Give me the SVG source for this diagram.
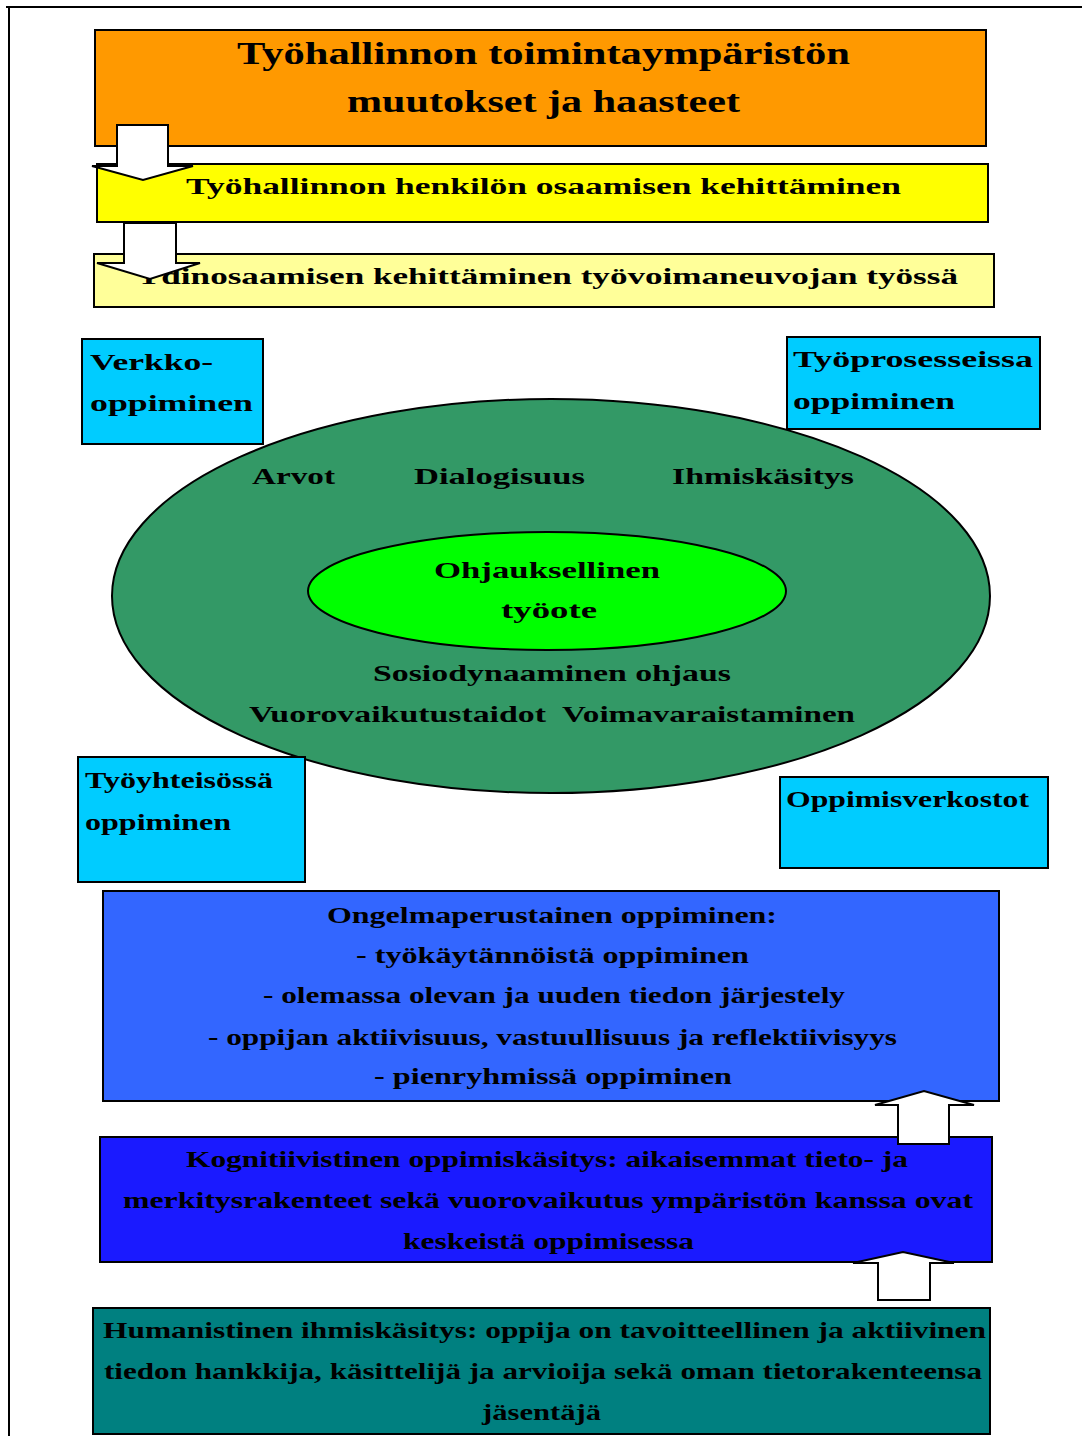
<svg xmlns="http://www.w3.org/2000/svg" width="1082" height="1436" viewBox="0 0 1082 1436">
<style>
.box{stroke:#000;stroke-width:2}
.t{font-family:"Liberation Serif","Times New Roman",serif;font-weight:bold;fill:#000;font-size:24px}
.big{font-size:32px}
.arr{fill:#fff;stroke:#000;stroke-width:2;stroke-linejoin:miter}
</style>
<rect width="1082" height="1436" fill="#fff"/>
<g id="frame">
<line x1="6" y1="7" x2="1082" y2="7" stroke="#000" stroke-width="2"/>
<line x1="9" y1="6" x2="9" y2="1436" stroke="#000" stroke-width="2"/>
</g>
<g id="node-muutokset">
<rect class="box" x="95" y="30" width="891" height="116" fill="#FF9900"/>
<text class="t big" x="237" y="64" textLength="613" lengthAdjust="spacingAndGlyphs">Työhallinnon toimintaympäristön</text>
<text class="t big" x="347" y="112" textLength="393" lengthAdjust="spacingAndGlyphs">muutokset ja haasteet</text>
</g>
<g id="node-henkilon">
<rect class="box" x="97" y="164" width="891" height="58" fill="#FFFF00"/>
<text class="t" x="186" y="194" textLength="715" lengthAdjust="spacingAndGlyphs">Työhallinnon henkilön osaamisen kehittäminen</text>
</g>
<g id="node-ydinosaaminen">
<rect class="box" x="94" y="254" width="900" height="53" fill="#FFFF99"/>
<text class="t" x="136" y="284" textLength="822" lengthAdjust="spacingAndGlyphs">Ydinosaamisen kehittäminen työvoimaneuvojan työssä</text>
</g>
<g id="node-ohjaus">
<ellipse class="box" cx="551" cy="596" rx="439" ry="197" fill="#339966"/>
<text class="t" x="252" y="484" textLength="83" lengthAdjust="spacingAndGlyphs">Arvot</text>
<text class="t" x="414" y="484" textLength="171" lengthAdjust="spacingAndGlyphs">Dialogisuus</text>
<text class="t" x="672" y="484" textLength="182" lengthAdjust="spacingAndGlyphs">Ihmiskäsitys</text>
<text class="t" x="373" y="681" textLength="358" lengthAdjust="spacingAndGlyphs">Sosiodynaaminen ohjaus</text>
<text class="t" x="249" y="722" textLength="297" lengthAdjust="spacingAndGlyphs">Vuorovaikutustaidot</text>
<text class="t" x="562" y="722" textLength="293" lengthAdjust="spacingAndGlyphs">Voimavaraistaminen</text>
</g>
<g id="node-tyoote">
<ellipse class="box" cx="547" cy="591" rx="239" ry="59" fill="#00FF00"/>
<text class="t" x="434" y="578" textLength="226" lengthAdjust="spacingAndGlyphs">Ohjauksellinen</text>
<text class="t" x="501" y="618" textLength="96" lengthAdjust="spacingAndGlyphs">työote</text>
</g>
<g id="node-verkko">
<rect class="box" x="82" y="339" width="181" height="105" fill="#00CCFF"/>
<text class="t" x="90" y="370" textLength="123" lengthAdjust="spacingAndGlyphs">Verkko-</text>
<text class="t" x="90" y="411" textLength="163" lengthAdjust="spacingAndGlyphs">oppiminen</text>
</g>
<g id="node-tyoprosesseissa">
<rect class="box" x="787" y="337" width="253" height="92" fill="#00CCFF"/>
<text class="t" x="793" y="367" textLength="240" lengthAdjust="spacingAndGlyphs">Työprosesseissa</text>
<text class="t" x="793" y="409" textLength="162" lengthAdjust="spacingAndGlyphs">oppiminen</text>
</g>
<g id="node-tyoyhteisossa">
<rect class="box" x="78" y="757" width="227" height="125" fill="#00CCFF"/>
<text class="t" x="85" y="788" textLength="188" lengthAdjust="spacingAndGlyphs">Työyhteisössä</text>
<text class="t" x="85" y="830" textLength="146" lengthAdjust="spacingAndGlyphs">oppiminen</text>
</g>
<g id="node-oppimisverkostot">
<rect class="box" x="780" y="777" width="268" height="91" fill="#00CCFF"/>
<text class="t" x="786" y="807" textLength="243" lengthAdjust="spacingAndGlyphs">Oppimisverkostot</text>
</g>
<g id="node-ongelmaperustainen">
<rect class="box" x="103" y="891" width="896" height="210" fill="#3366FF"/>
<text class="t" x="327" y="923" textLength="450" lengthAdjust="spacingAndGlyphs">Ongelmaperustainen oppiminen:</text>
<text class="t" x="356" y="963" textLength="393" lengthAdjust="spacingAndGlyphs">- työkäytännöistä oppiminen</text>
<text class="t" x="263" y="1003" textLength="582" lengthAdjust="spacingAndGlyphs">- olemassa olevan ja uuden tiedon järjestely</text>
<text class="t" x="208" y="1045" textLength="689" lengthAdjust="spacingAndGlyphs">- oppijan aktiivisuus, vastuullisuus ja reflektiivisyys</text>
<text class="t" x="374" y="1084" textLength="358" lengthAdjust="spacingAndGlyphs">- pienryhmissä oppiminen</text>
</g>
<g id="node-kognitiivinen">
<rect class="box" x="100" y="1137" width="892" height="125" fill="#1A1AFF"/>
<text class="t" x="186" y="1167" textLength="722" lengthAdjust="spacingAndGlyphs">Kognitiivistinen oppimiskäsitys: aikaisemmat tieto- ja</text>
<text class="t" x="123" y="1208" textLength="850" lengthAdjust="spacingAndGlyphs">merkitysrakenteet sekä vuorovaikutus ympäristön kanssa ovat</text>
<text class="t" x="403" y="1249" textLength="291" lengthAdjust="spacingAndGlyphs">keskeistä oppimisessa</text>
</g>
<g id="node-humanistinen">
<rect class="box" x="93" y="1308" width="897" height="126" fill="#008080"/>
<text class="t" x="103" y="1338" textLength="883" lengthAdjust="spacingAndGlyphs">Humanistinen ihmiskäsitys: oppija on tavoitteellinen ja aktiivinen</text>
<text class="t" x="104" y="1379" textLength="878" lengthAdjust="spacingAndGlyphs">tiedon hankkija, käsittelijä ja arvioija sekä oman tietorakenteensa</text>
<text class="t" x="482" y="1420" textLength="119" lengthAdjust="spacingAndGlyphs">jäsentäjä</text>
</g>
<g id="connectors">
<path class="arr" d="M117,125 L168,125 L168,166 L193,166 L143,180 L92,166 L117,166 Z"/>
<path class="arr" d="M124,223 L176,223 L176,263 L200,263 L150,279 L97,263 L124,263 Z"/>
<path class="arr" d="M898,1144 L949,1144 L949,1105 L974,1105 L924,1091 L875,1105 L898,1105 Z"/>
<path class="arr" d="M878,1300 L930,1300 L930,1263 L954,1263 L903,1252 L853,1263 L878,1263 Z"/>
</g>
</svg>
